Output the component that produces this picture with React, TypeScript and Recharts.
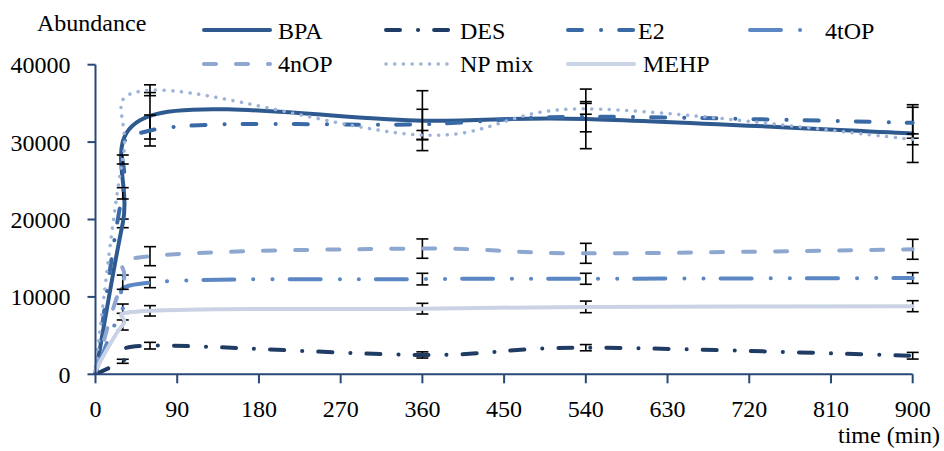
import { ErrorBar, Line, LineChart, XAxis, YAxis } from "recharts";

const FONT = "'Liberation Serif', 'DejaVu Serif', serif";
const AXIS = "#284878";

// sampling times (min)
const times = [0, 30, 60, 360, 540, 900];

const bpa = [0, 19500, 33400, 32770, 33000, 31100];
const bpaErr = [null, 560, 3000, 3870, 3850, 3730];
const des = [0, 1680, 3700, 2500, 3440, 2400];
const desErr = [null, 260, 430, 400, 400, 430];
const e2 = [0, 23380, 31500, 32300, 33280, 32500];
const e2Err = [null, 730, 2000, 1940, 1950, 2000];
const tOP = [300, 8480, 11860, 12300, 12340, 12440];
const tOPErr = [null, 600, 670, 750, 710, 690];
const nOP = [500, 11900, 15260, 16240, 15630, 16150];
const nOPErr = [null, 920, 1230, 1250, 1290, 1290];
const npMix = [1000, 27750, 36700, 30900, 34300, 30360];
const npMixErr = [null, 580, 700, 600, 700, 700];
const mehp = [500, 6370, 8200, 8480, 8710, 8800];
const mehpErr = [null, 650, 670, 690, 750, 710];

const xTicks = [0, 90, 180, 270, 360, 450, 540, 630, 720, 810, 900];
const yTicks = [0, 10000, 20000, 30000, 40000];

const rows = times.map((t, i) => ({
  t,
  bpa: bpa[i], bpaErr: bpaErr[i],
  des: des[i], desErr: desErr[i],
  e2: e2[i], e2Err: e2Err[i],
  tOP: tOP[i], tOPErr: tOPErr[i],
  nOP: nOP[i], nOPErr: nOPErr[i],
  npMix: npMix[i], npMixErr: npMixErr[i],
  mehp: mehp[i], mehpErr: mehpErr[i],
}));

type SeriesStyle = {
  key: string;
  name: string;
  color: string;
  width: number;
  dash?: string;
};

const series: SeriesStyle[] = [
  { key: "bpa", name: "BPA", color: "#2E5A8F", width: 4 },
  { key: "des", name: "DES", color: "#1F3C64", width: 4, dash: "14 18 0.1 16" },
  { key: "e2", name: "E2", color: "#3A6AA6", width: 4, dash: "14 19 0.1 18" },
  { key: "tOP", name: "4tOP", color: "#5B87C4", width: 4, dash: "31 19 0.1 19 0.1 17" },
  { key: "nOP", name: "4nOP", color: "#8DA7D0", width: 4, dash: "12 20" },
  { key: "npMix", name: "NP mix", color: "#9DB2D7", width: 3.5, dash: "0.1 8.6" },
  { key: "mehp", name: "MEHP", color: "#C9D3E5", width: 4 },
];

// Excel style smoothing: uniform Catmull-Rom turned into cubic beziers
function excelSmooth(context: any) {
  let pts: [number, number][] = [];
  return {
    areaStart() {},
    areaEnd() {},
    lineStart() {
      pts = [];
    },
    point(x: number, y: number) {
      pts.push([+x, +y]);
    },
    lineEnd() {
      const n = pts.length;
      if (!n) return;
      context.moveTo(pts[0][0], pts[0][1]);
      for (let i = 0; i < n - 1; i++) {
        const p0 = pts[i === 0 ? 0 : i - 1];
        const p1 = pts[i];
        const p2 = pts[i + 1];
        const p3 = pts[i + 2 < n ? i + 2 : n - 1];
        context.bezierCurveTo(
          p1[0] + (p2[0] - p0[0]) / 6,
          p1[1] + (p2[1] - p0[1]) / 6,
          p2[0] - (p3[0] - p1[0]) / 6,
          p2[1] - (p3[1] - p1[1]) / 6,
          p2[0],
          p2[1]
        );
      }
    },
  };
}

// legend slots: [sample x, sample y, label x, label baseline]
const legendSlots = [
  [202, 30, 278, 38.5],
  [384, 30, 460, 38.5],
  [566, 30, 638, 38.5],
  [748, 30, 825, 38.5],
  [202, 64, 278, 72],
  [384, 64, 460, 72],
  [566, 64, 643, 72],
];

function Overlay() {
  return (
    <svg
      width={944}
      height={451}
      style={{ position: "absolute", left: 0, top: 0, pointerEvents: "none", fontFamily: FONT, fontSize: 24 }}
    >
      <text x={37} y={30.5} fill="#000">
        Abundance
      </text>
      <text x={940} y={443} textAnchor="end" fill="#000">
        time (min)
      </text>
      {series.map((s, i) => {
        const [sx, sy, lx, ly] = legendSlots[i];
        return (
          <g key={s.key}>
            <line
              x1={sx + 2}
              x2={sx + 68}
              y1={sy}
              y2={sy}
              stroke={s.color}
              strokeWidth={s.width}
              strokeDasharray={s.dash}
              strokeLinecap="round"
            />
            <text x={lx} y={ly} fill="#000">
              {s.name}
            </text>
          </g>
        );
      })}
    </svg>
  );
}

export default function App() {
  const tick = { fill: "#000", fontSize: 24, style: { fontFamily: FONT } };
  return (
    <div
      style={{
        position: "absolute",
        left: 0,
        top: 0,
        width: 944,
        height: 451,
        background: "#fff",
        fontFamily: FONT,
      }}
    >
      <LineChart
        width={944}
        height={451}
        data={rows}
        margin={{ top: 64.7, right: 31.3, bottom: 0, left: 0 }}
        style={{ fontFamily: FONT }}
      >
        <XAxis
          dataKey="t"
          type="number"
          domain={[0, 900]}
          ticks={xTicks}
          interval={0}
          height={76.7}
          tick={tick}
          tickSize={9}
          tickMargin={17}
          axisLine={{ stroke: AXIS, strokeWidth: 2 }}
          tickLine={{ stroke: AXIS, strokeWidth: 2 }}
        />
        <YAxis
          type="number"
          domain={[0, 40000]}
          ticks={yTicks}
          interval={0}
          allowDataOverflow
          width={95.5}
          tick={tick}
          tickSize={8}
          tickMargin={17}
          axisLine={{ stroke: AXIS, strokeWidth: 2 }}
          tickLine={{ stroke: AXIS, strokeWidth: 2 }}
        />
        {series.map((s) => (
          <Line
            key={s.key}
            dataKey={s.key}
            name={s.name}
            type={excelSmooth as any}
            stroke={s.color}
            strokeWidth={s.width}
            strokeDasharray={s.dash}
            strokeLinecap="round"
            dot={false}
            activeDot={false}
            isAnimationActive={false}
          >
            <ErrorBar
              dataKey={`${s.key}Err`}
              direction="y"
              width={6}
              stroke="#000"
              strokeWidth={1.6}
              isAnimationActive={false}
            />
          </Line>
        ))}
      </LineChart>
      <Overlay />
    </div>
  );
}
